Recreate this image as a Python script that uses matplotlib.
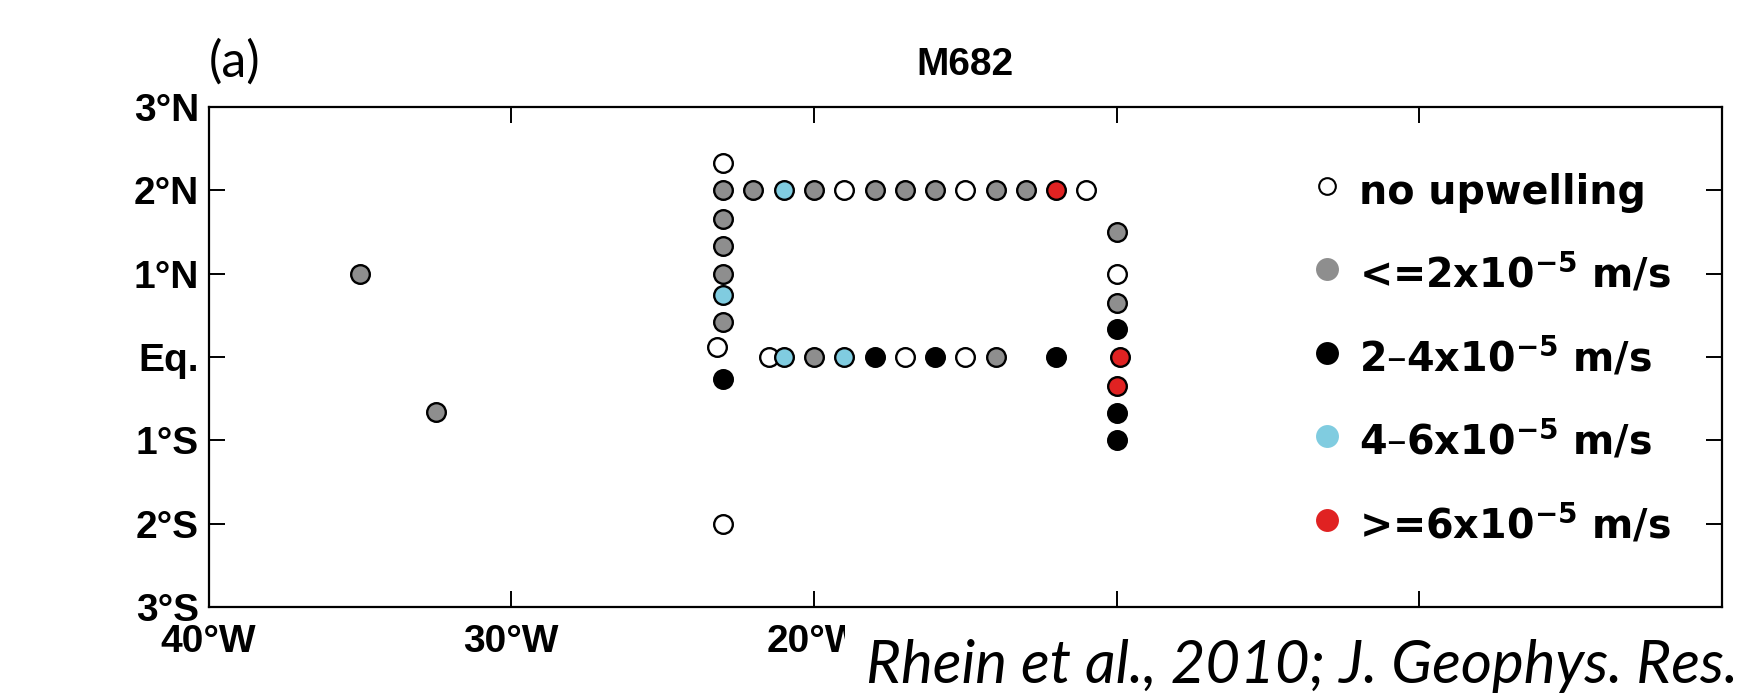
import matplotlib
matplotlib.use("Agg")
import matplotlib.pyplot as plt
from matplotlib.lines import Line2D

# ---------------- data ----------------
# station longitudes (deg, negative = W) and latitudes (deg, negative = S)
lon = [-35.0, -32.5,
       -23.0, -23.0, -23.0, -23.0, -23.0, -23.0, -23.0, -23.2, -23.0, -23.0,
       -22.0, -21.0, -20.0, -19.0, -18.0, -17.0, -16.0, -15.0, -14.0, -13.0, -12.0, -11.0,
       -21.5, -21.0, -20.0, -19.0, -18.0, -17.0, -16.0, -15.0, -14.0, -12.0, -9.9,
       -10.0, -10.0, -10.0, -10.0, -10.0, -10.0, -10.0]
lat = [1.0, -0.66,
       2.33, 2.0, 1.66, 1.33, 1.0, 0.75, 0.42, 0.12, -0.26, -2.0,
       2.0, 2.0, 2.0, 2.0, 2.0, 2.0, 2.0, 2.0, 2.0, 2.0, 2.0, 2.0,
       0.0, 0.0, 0.0, 0.0, 0.0, 0.0, 0.0, 0.0, 0.0, 0.0, 0.0,
       1.5, 1.0, 0.65, 0.34, -0.35, -0.67, -1.0]
# upwelling class: 0 none, 1 <=2, 2 2-4, 3 4-6, 4 >=6 (x1e-5 m/s)
cls = [1, 1,
       0, 1, 1, 1, 1, 3, 1, 0, 2, 0,
       1, 3, 1, 0, 1, 1, 1, 0, 1, 1, 4, 0,
       0, 3, 1, 3, 2, 0, 2, 0, 1, 2, 4,
       1, 0, 1, 2, 4, 2, 2]

class_labels = ["no upwelling",
                r"<=2x10$^{-5}$ m/s",
                r"2–4x10$^{-5}$ m/s",
                r"4–6x10$^{-5}$ m/s",
                r">=6x10$^{-5}$ m/s"]
class_colors = ["white", "#8e8e8e", "black", "#80cce0", "#e02222"]

x_ticks = [-40, -30, -20, -10, 0, 10]
x_ticklabels = ["40°W", "30°W", "20°W", "10°W", "0°", "10°E"]
y_ticks = [-3, -2, -1, 0, 1, 2, 3]
y_ticklabels = ["3°S", "2°S", "1°S", "Eq.", "1°N", "2°N", "3°N"]

title = "M682"
panel = "(a)"
citation = "Rhein et al., 2010; J. Geophys. Res."

# ---------------- figure ----------------
plt.rcParams["mathtext.fontset"] = "dejavusans"
plt.rcParams["mathtext.default"] = "bf"

fig = plt.figure(figsize=(17.42, 6.95), dpi=100)
ax = fig.add_axes([0.11975, 0.12662, 0.8688, 0.71942])

for i, (x, y, c) in enumerate(zip(lon, lat, cls)):
    ax.scatter([x], [y], s=180, c=class_colors[c], edgecolors="black",
               linewidths=1.7, zorder=3 + i * 0.001)

ax.set_xlim(-40, 10)
ax.set_ylim(-3, 3)
ax.set_xticks(x_ticks)
ax.set_xticklabels(x_ticklabels)
ax.set_yticks(y_ticks)
ax.set_yticklabels(y_ticklabels)

tick_font = dict(family="Liberation Sans", weight="bold", size=28)
for lab in ax.get_xticklabels() + ax.get_yticklabels():
    lab.set_fontproperties(matplotlib.font_manager.FontProperties(**tick_font))

ax.tick_params(axis="both", direction="in", length=11.5, width=1.4,
               top=True, right=True, colors="black")
ax.tick_params(axis="x", pad=12)
ax.tick_params(axis="y", pad=7)
for sp in ax.spines.values():
    sp.set_linewidth(1.6)

ax.set_title(title, fontfamily="Liberation Sans", fontweight="bold",
             fontsize=28, pad=23)
ax.text(0.0, 1.06, panel, transform=ax.transAxes, ha="left", va="baseline",
        fontfamily="Lato", fontsize=36)

handles = []
for k, (lab, col) in enumerate(zip(class_labels, class_colors)):
    if k == 0:
        h = Line2D([], [], marker="o", linestyle="none", markersize=12,
                   markerfacecolor="white", markeredgecolor="black",
                   markeredgewidth=1.5, label=lab)
    else:
        h = Line2D([], [], marker="o", linestyle="none", markersize=16.5,
                   markerfacecolor=col, markeredgewidth=0, label=lab)
    handles.append(h)

ax.legend(handles=handles, loc="upper left", bbox_to_anchor=(0.7284, 0.880),
          frameon=False, borderpad=0, borderaxespad=0,
          handlelength=0.8, handleheight=1.5, handletextpad=0.41,
          labelspacing=0.89,
          prop=dict(family="DejaVu Sans", weight="bold", size=28.5))

fig.text(866 / 1742, 12 / 695, citation, ha="left", va="baseline",
         fontfamily="Lato", fontstyle="italic", fontsize=43.2,
         bbox=dict(facecolor="white", edgecolor="none", pad=15))

fig.savefig("out.png", dpi=100)
